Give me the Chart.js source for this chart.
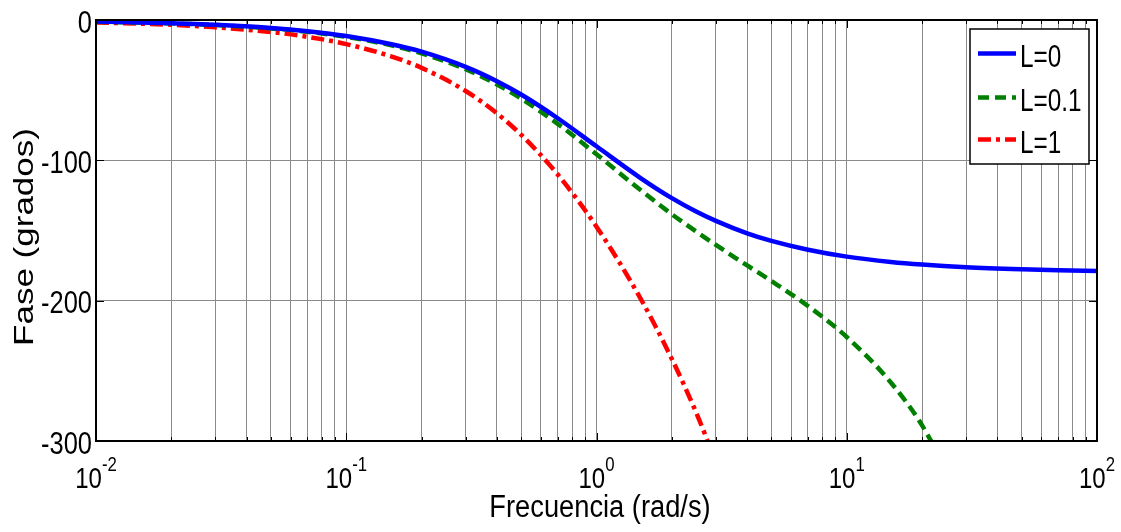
<!DOCTYPE html>
<html>
<head>
<meta charset="utf-8">
<title>Fase vs Frecuencia</title>
<script src="https://cdn.jsdelivr.net/npm/chart.js@4.4.1/dist/chart.umd.min.js"></script>
<style>
  html, body { margin: 0; padding: 0; background: #fff; }
  #wrap { width: 1121px; height: 532px; }
</style>
</head>
<body>
<div id="wrap"><canvas id="phaseChart" width="1121" height="532"></canvas></div>
<script>
// Frequencies (rad/s) and phase (deg)
const freq = [0.01, 0.02, 0.03, 0.05, 0.07, 0.1, 0.15, 0.2, 0.3, 0.4, 0.5, 0.7, 1, 1.5, 2, 2.5, 3, 4, 5, 7, 10, 15, 20, 30, 50, 70, 100];
const phaseL0 = [-1.1, -2.3, -3.4, -5.7, -8.0, -11.4, -17.1, -22.6, -33.4, -43.6, -53.1, -70.0, -90.0, -112.6, -126.9, -136.4, -143.1, -152.0, -157.4, -163.7, -168.6, -172.4, -174.3, -176.2, -177.7, -178.4, -178.9];
const phaseL01 = [-1.2, -2.4, -3.6, -6.0, -8.4, -12.0, -17.9, -23.8, -35.1, -45.9, -56.0, -74.0, -95.7, -121.2, -138.4, -150.7, -160.3, -174.9, -186.0, -203.8, -225.9, -258.3, -288.9, -348.1];
const phaseL1 = [-1.7, -3.4, -5.2, -8.6, -12.0, -17.2, -25.7, -34.1, -50.6, -66.5, -81.8, -110.1, -147.3, -198.5, -241.5, -279.6, -315.0];

const seriesLabels = ['L=0', 'L=0.1', 'L=1'];
const yTicks = [0, -100, -200, -300];
const decades = [0.01, 0.1, 1, 10, 100];
const decadeExp = ['-2', '-1', '0', '1', '2'];
const minorSteps = [1, 2, 3, 4, 5, 6, 7, 8, 9];
const xTitle = 'Frecuencia (rad/s)';
const yTitle = 'Fase (grados)';

// grid positions: every 1..9 x decade
const gridFreqs = [];
decades.forEach((d, i) => {
    if (i === decades.length - 1) { gridFreqs.push(d); return; }
    minorSteps.forEach(m => gridFreqs.push(+(d * m).toPrecision(3)));
});

const FONT = "'Liberation Sans', Arial, sans-serif";

function toPoints(vals) {
    return vals.map((v, i) => ({ x: freq[i], y: v }));
}

// text squeezed horizontally, like the exported MATLAB figure
function drawText(ctx, text, x, y, size, align, sx) {
    ctx.save();
    ctx.font = `${size}px ${FONT}`;
    ctx.textAlign = align;
    ctx.textBaseline = 'alphabetic';
    ctx.fillStyle = '#000';
    ctx.translate(x, y);
    ctx.scale(sx, 1);
    ctx.fillText(text, 0, 0);
    ctx.restore();
}

function textWidth(ctx, text, size, sx) {
    ctx.save();
    ctx.font = `${size}px ${FONT}`;
    const w = ctx.measureText(text).width * sx;
    ctx.restore();
    return w;
}

const bodeFrame = {
    id: 'bodeFrame',
    afterDraw(chart) {
        const { ctx, chartArea: a, scales } = chart;
        const xs = scales.x, ys = scales.y;
        ctx.save();

        // tick marks inside the box
        ctx.strokeStyle = '#000';
        ctx.lineWidth = 1;
        gridFreqs.forEach(f => {
            const px = Math.round(xs.getPixelForValue(f)) + 0.5;
            const len = decades.includes(f) ? 8 : 4;
            ctx.beginPath();
            ctx.moveTo(px, a.bottom); ctx.lineTo(px, a.bottom - len);
            ctx.moveTo(px, a.top); ctx.lineTo(px, a.top + len);
            ctx.stroke();
        });
        yTicks.forEach(t => {
            const py = Math.round(ys.getPixelForValue(t)) + 0.5;
            ctx.beginPath();
            ctx.moveTo(a.left, py); ctx.lineTo(a.left + 8, py);
            ctx.moveTo(a.right, py); ctx.lineTo(a.right - 8, py);
            ctx.stroke();
        });

        // box
        ctx.lineWidth = 2;
        ctx.strokeRect(a.left, a.top, a.right - a.left, a.bottom - a.top);

        // y tick labels
        yTicks.forEach(t => {
            const py = ys.getPixelForValue(t);
            drawText(ctx, String(t), a.left - 4, py + 12.5, 31, 'right', 0.82);
        });

        // x tick labels 10^n
        decades.forEach((d, i) => {
            const px = xs.getPixelForValue(d);
            const w1 = textWidth(ctx, '10', 30, 0.8);
            const w2 = textWidth(ctx, decadeExp[i], 21, 0.8);
            const x0 = px - (w1 + w2) / 2;
            drawText(ctx, '10', x0, 488, 30, 'left', 0.8);
            drawText(ctx, decadeExp[i], x0 + w1, 471, 21, 'left', 0.8);
        });

        // axis titles
        drawText(ctx, xTitle, 600, 517, 31, 'center', 0.88);
        ctx.save();
        ctx.translate(33, 237);
        ctx.rotate(-Math.PI / 2);
        ctx.scale(1, 0.8);
        ctx.font = `35px ${FONT}`;
        ctx.textAlign = 'center';
        ctx.textBaseline = 'alphabetic';
        ctx.fillStyle = '#000';
        ctx.fillText(yTitle, 0, 0);
        ctx.restore();

        // legend
        const lx = 970, ly = 29, lw = 119, lh = 135;
        ctx.fillStyle = '#fff';
        ctx.fillRect(lx, ly, lw, lh);
        ctx.strokeStyle = '#000';
        ctx.lineWidth = 1.5;
        ctx.strokeRect(lx, ly, lw, lh);
        const rows = [53.5, 97.5, 139.5];
        chart.data.datasets.forEach((ds, i) => {
            ctx.save();
            ctx.strokeStyle = ds.borderColor;
            ctx.lineWidth = ds.borderWidth;
            ctx.setLineDash(ds.borderDash || []);
            ctx.beginPath();
            ctx.moveTo(978, rows[i]);
            ctx.lineTo(1016, rows[i]);
            ctx.stroke();
            ctx.restore();
            drawText(ctx, ds.label, 1020, rows[i] + 13, 32, 'left', 0.76);
        });

        ctx.restore();
    }
};

new Chart(document.getElementById('phaseChart'), {
    type: 'line',
    data: {
        datasets: [
            { label: seriesLabels[0], data: toPoints(phaseL0), borderColor: '#0000ff', borderWidth: 4.5, borderDash: [] },
            { label: seriesLabels[1], data: toPoints(phaseL01), borderColor: '#007f00', borderWidth: 4.5, borderDash: [11, 6] },
            { label: seriesLabels[2], data: toPoints(phaseL1), borderColor: '#ff0000', borderWidth: 4.5, borderDash: [13, 5, 4, 5] }
        ]
    },
    options: {
        responsive: false,
        animation: false,
        events: [],
        layout: { padding: { left: 4, top: 20, right: 24, bottom: 0 } },
        elements: {
            point: { radius: 0 },
            line: { cubicInterpolationMode: 'monotone', borderCapStyle: 'butt' }
        },
        datasets: { line: { clip: 0 } },
        plugins: { legend: { display: false }, tooltip: { enabled: false } },
        scales: {
            x: {
                type: 'logarithmic',
                min: 0.01,
                max: 100,
                afterBuildTicks: scale => { scale.ticks = gridFreqs.map(v => ({ value: v })); },
                afterFit: scale => { scale.height = 91; },
                ticks: { display: false },
                grid: { color: '#8a8a8a', lineWidth: 1, drawTicks: false },
                border: { display: false }
            },
            y: {
                min: -300,
                max: 0,
                afterBuildTicks: scale => { scale.ticks = yTicks.map(v => ({ value: v })); },
                afterFit: scale => { scale.width = 92; },
                ticks: { display: false },
                grid: { color: '#8a8a8a', lineWidth: 1, drawTicks: false },
                border: { display: false }
            }
        }
    },
    plugins: [bodeFrame]
});
</script>
</body>
</html>
